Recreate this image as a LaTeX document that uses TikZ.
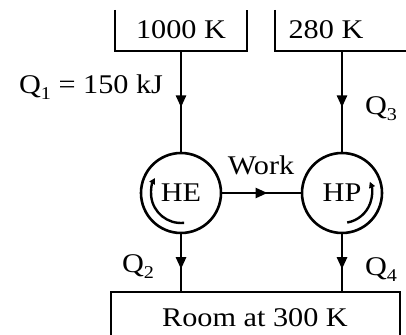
\documentclass[tikz,border=0pt]{standalone}
\usepackage{fontspec}
\setmainfont{Liberation Serif}[FakeStretch=1.12]
\usetikzlibrary{arrows.meta,decorations.markings}
\newcommand{\qsb}[1]{\raisebox{-6pt}{\fontsize{18}{18}\selectfont #1}}
\tikzset{
  ln/.style={line width=2.6pt},
  lbl/.style={inner sep=0pt, font=\fontsize{27}{30}\selectfont},
  engine/.style={ln, circle, draw, minimum size=80pt, inner sep=0pt, font=\fontsize{27}{30}\selectfont},
  midarrow/.style={postaction=decorate, decoration={markings,
     mark=at position 0.5 with {\arrow[xshift=6pt]{Triangle[width=10pt,length=12pt]}}}},
  turn/.style={line width=2.4pt, -{Triangle[width=6pt,length=6pt]}}
}
\begin{document}
\begin{tikzpicture}[x=1pt,y=1pt]
\useasboundingbox (0,0) rectangle (406,334);
% reservoirs
\draw[ln] (115,324) -- (115,283) -- (247,283) -- (247,324);
\draw[ln] (275,324) -- (275,283) -- (407,283);
\draw[ln] (111,-2) -- (111,42) -- (400,42) -- (400,-2);
\node[lbl] (hot) at (181,304) {1000 K};
\node[lbl] (cold) at (326,304) {280 K};
\node[lbl] (room) at (255,16) {Room at 300 K};
\coordinate (hotb) at (181,283);
\coordinate (coldb) at (342,283);
\coordinate (roomHE) at (181,42);
\coordinate (roomHP) at (342,42);
% engines
\node[engine] (HE) at (181,141) {HE};
\node[engine] (HP) at (342,141) {HP};
% connectors
\draw[ln, midarrow] (hotb) -- (HE.north);
\draw[ln, midarrow] (coldb) -- (HP.north);
\draw[ln, midarrow] (HE.south) -- (roomHE);
\draw[ln, midarrow] (HP.south) -- (roomHP);
\draw[ln, midarrow] (HE.east) -- (HP.west);
% rotation arrows
\draw[turn] ([shift={(-84:30)}]HE.center) arc[start angle=-84, end angle=-210, radius=30];
\draw[turn] ([shift={(-80:30)}]HP.center) arc[start angle=-80, end angle=22, radius=30];
% labels
\node[lbl, anchor=base] (q1) at (91,240) {Q\qsb{1} = 150 kJ};
\node[lbl, anchor=base] (q3) at (381,219) {Q\qsb{3}};
\node[lbl, anchor=base] (q2) at (138,61) {Q\qsb{2}};
\node[lbl, anchor=base] (q4) at (381,58) {Q\qsb{4}};
\node[lbl] (work) at (261,169) {Work};
\end{tikzpicture}
\end{document}
